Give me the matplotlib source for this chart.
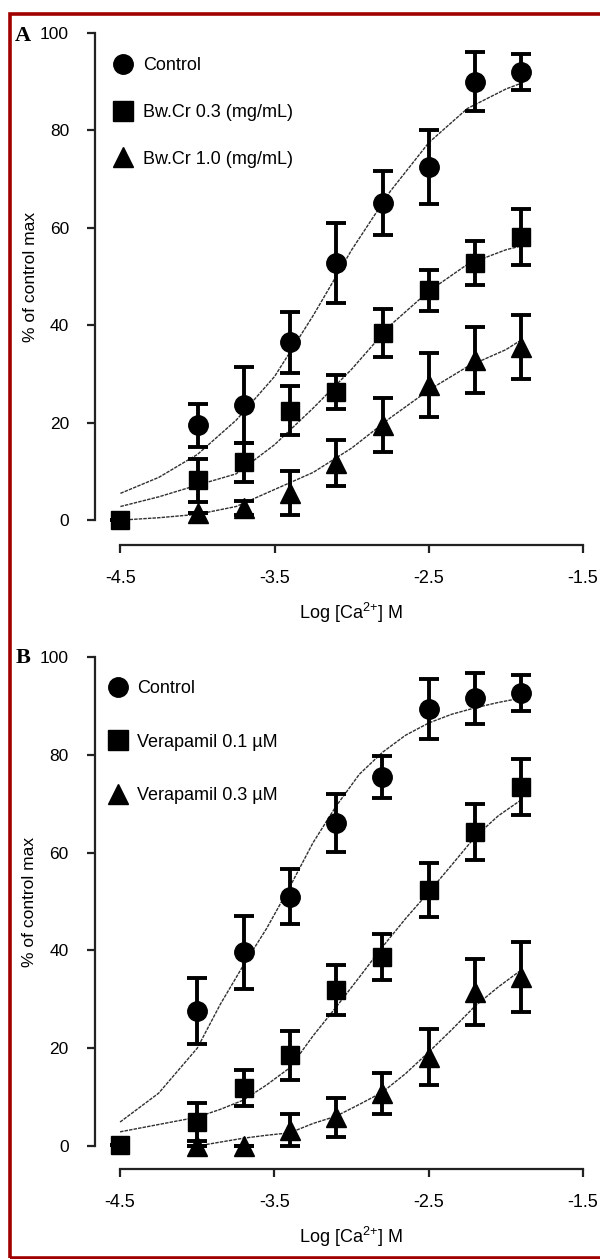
import matplotlib
matplotlib.use("Agg")
import matplotlib.pyplot as plt
from matplotlib.lines import Line2D
from matplotlib.patches import Rectangle

plt.rcParams['font.family'] = ['Liberation Sans', 'DejaVu Sans']
plt.rcParams['mathtext.fontset'] = 'custom'
plt.rcParams['mathtext.rm'] = 'Liberation Sans'
plt.rcParams['mathtext.default'] = 'regular'

# log [Ca2+] concentrations
x_all = [-4.5, -4.0, -3.7, -3.4, -3.1, -2.8, -2.5, -2.2, -1.9]
x_from4 = [-4.0, -3.7, -3.4, -3.1, -2.8, -2.5, -2.2, -1.9]

# Panel A: Bw.Cr
a_ctrl = [19.5, 23.6, 36.5, 52.8, 65.1, 72.5, 90.0, 92.0]
a_ctrl_err = [4.4, 7.8, 6.3, 8.2, 6.5, 7.6, 6.0, 3.6]
a_low = [0.0, 8.2, 11.9, 22.5, 26.3, 38.4, 47.2, 52.8, 58.1]
a_low_err = [0.0, 4.4, 4.0, 5.0, 3.5, 5.0, 4.2, 4.6, 5.8]
a_high = [1.4, 2.5, 5.5, 11.7, 19.5, 27.7, 32.9, 35.5]
a_high_err = [0.0, 1.5, 4.5, 4.7, 5.5, 6.6, 6.8, 6.6]

# fitted curves
fit_x_a = [-4.5, -4.25, -4.0, -3.75, -3.5, -3.25, -3.0, -2.75, -2.5, -2.25, -2.0, -1.9]
fit_a_ctrl = [5.5, 8.8, 13.5, 20.5, 29.5, 42.0, 55.5, 67.5, 77.5, 84.5, 88.5, 89.7]
fit_a_low = [2.8, 4.8, 7.2, 9.5, 15.5, 23.0, 31.0, 40.0, 47.0, 52.5, 55.5, 56.3]
fit_a_high = [0.0, 0.5, 1.2, 2.8, 6.3, 9.8, 14.8, 21.0, 26.7, 31.5, 35.0, 37.0]

# Panel B: verapamil
b_ctrl = [27.6, 39.6, 51.0, 66.0, 75.5, 89.4, 91.6, 92.6]
b_ctrl_err = [6.7, 7.5, 5.7, 5.9, 4.3, 6.1, 5.2, 3.7]
b_low = [0.2, 4.9, 11.9, 18.6, 31.9, 38.7, 52.4, 64.2, 73.4]
b_low_err = [0.0, 3.9, 3.7, 5.0, 5.2, 4.7, 5.5, 5.7, 5.7]
b_high = [0.0, 0.0, 3.3, 5.9, 10.8, 18.2, 31.5, 34.6]
b_high_err = [0.0, 0.0, 3.2, 4.0, 4.2, 5.7, 6.8, 7.1]

# fitted curves
fit_x_b = [-4.5, -4.25, -4.0, -3.85, -3.7, -3.55, -3.4, -3.25, -3.1, -2.95,
           -2.8, -2.65, -2.5, -2.35, -2.2, -2.05, -1.9]
fit_b_ctrl = [4.9, 10.8, 20.0, 29.0, 37.0, 44.5, 53.0, 62.0, 69.5, 76.0,
              80.5, 84.0, 86.5, 88.3, 89.6, 90.7, 91.6]
fit_b_low = [2.9, 4.4, 5.9, 7.5, 9.4, 12.5, 16.0, 22.5, 28.4, 34.5,
             40.7, 46.5, 51.9, 57.5, 63.2, 67.5, 70.8]
fit_x_b_high = fit_x_b[2:]
fit_b_high = [0.0, 0.8, 1.6, 2.2, 2.7, 4.6, 6.1, 8.5, 11.0, 14.8,
              19.2, 23.8, 28.6, 32.5, 36.0]

labels_a = ['Control', 'Bw.Cr 0.3 (mg/mL)', 'Bw.Cr 1.0 (mg/mL)']
labels_b = ['Control', 'Verapamil 0.1 \u00b5M', 'Verapamil 0.3 \u00b5M']

W, H = 600, 1259
fig = plt.figure(figsize=(W / 100, H / 100), dpi=100)

ax_a = fig.add_axes([95.4 / W, 1 - 545 / H, 487.6 / W, 512 / H])
ax_b = fig.add_axes([95.0 / W, 1 - 1169 / H, 488.0 / W, 512 / H])

fit_kw = dict(color='#303030', lw=1.0, ls=(0, (2.5, 0.8)), zorder=2)
eb_kw = dict(color='black', elinewidth=2.8, capsize=7, capthick=2.8, ls='none', zorder=3)


def draw_panel(ax, ctrl, ctrl_err, low, low_err, high, high_err, high_x,
               fx, fc, fl, fhx, fh, labels, ylim_lo, leg_x, leg_y, leg_spacing):
    ax.plot(fx, fc, **fit_kw)
    ax.plot(fx, fl, **fit_kw)
    ax.plot(fhx, fh, **fit_kw)
    ax.errorbar(x_from4, ctrl, yerr=ctrl_err, marker='o', ms=14, mfc='black', mec='black', **eb_kw)
    ax.errorbar(x_all, low, yerr=low_err, marker='s', ms=13.5, mfc='black', mec='black', **eb_kw)
    ax.errorbar(high_x, high, yerr=high_err, marker='^', ms=14, mfc='black', mec='black', **eb_kw)

    ax.set_xlim(-4.5 - 25 / 154, -1.5)
    ax.set_ylim(ylim_lo, 100)
    for s in ['top', 'right']:
        ax.spines[s].set_visible(False)
    ax.spines['left'].set_bounds(0, 100)
    ax.spines['bottom'].set_bounds(-4.5, -1.5)
    for s in ['left', 'bottom']:
        ax.spines[s].set_linewidth(1.6)
        ax.spines[s].set_color('#222222')
    ax.set_xticks([-4.5, -3.5, -2.5, -1.5])
    ax.set_xticklabels(['-4.5', '-3.5', '-2.5', '-1.5'])
    ax.set_yticks([0, 20, 40, 60, 80, 100])
    ax.tick_params(axis='y', direction='out', length=6, width=1.6, pad=13, labelsize=12.5, color='#222222')
    ax.tick_params(axis='x', direction='out', length=6, width=1.6, pad=12, labelsize=13, color='#222222')

    ax.set_ylabel('% of control max', fontsize=12.5)
    ax.yaxis.set_label_coords(-0.118, (50 - ylim_lo) / (100 - ylim_lo))
    ax.set_xlabel('Log [Ca$^{2{+}}$] M', fontsize=13)
    ax.xaxis.set_label_coords(0.524, -0.11)

    handles = [Line2D([], [], ls='none', marker=m, ms=s, color='black')
               for m, s in [('o', 14), ('s', 14), ('^', 14)]]
    ax.legend(handles, labels, loc='upper left', bbox_to_anchor=(leg_x, leg_y),
              frameon=False, fontsize=13, labelspacing=leg_spacing,
              handlelength=1.2, handletextpad=0.5, borderpad=0, borderaxespad=0)


draw_panel(ax_a, a_ctrl, a_ctrl_err, a_low, a_low_err, a_high, a_high_err, x_from4,
           fit_x_a, fit_a_ctrl, fit_a_low, fit_x_a, fit_a_high, labels_a, -5.1,
           0.034, 0.953, 1.65)
draw_panel(ax_b, b_ctrl, b_ctrl_err, b_low, b_low_err, b_high, b_high_err, x_from4,
           fit_x_b, fit_b_ctrl, fit_b_low, fit_x_b_high, fit_b_high, labels_b, -4.7,
           0.024, 0.955, 2.03)

fig.text(15 / W, 1 - 41 / H, 'A', fontfamily='Liberation Serif', fontweight='bold', fontsize=16)
fig.text(16 / W, 1 - 663 / H, 'B', fontfamily='Liberation Serif', fontweight='bold', fontsize=16)

# dark red frame: left, top and bottom edges (right edge lies outside the crop)
fig.patches.append(Rectangle((10 / W, 1.2 / H), 1.2, (1257 - 13) / H, transform=fig.transFigure,
                             fill=False, edgecolor='#a00000', lw=2.6, clip_on=False))

fig.savefig('out.png', dpi=100, facecolor='white')
